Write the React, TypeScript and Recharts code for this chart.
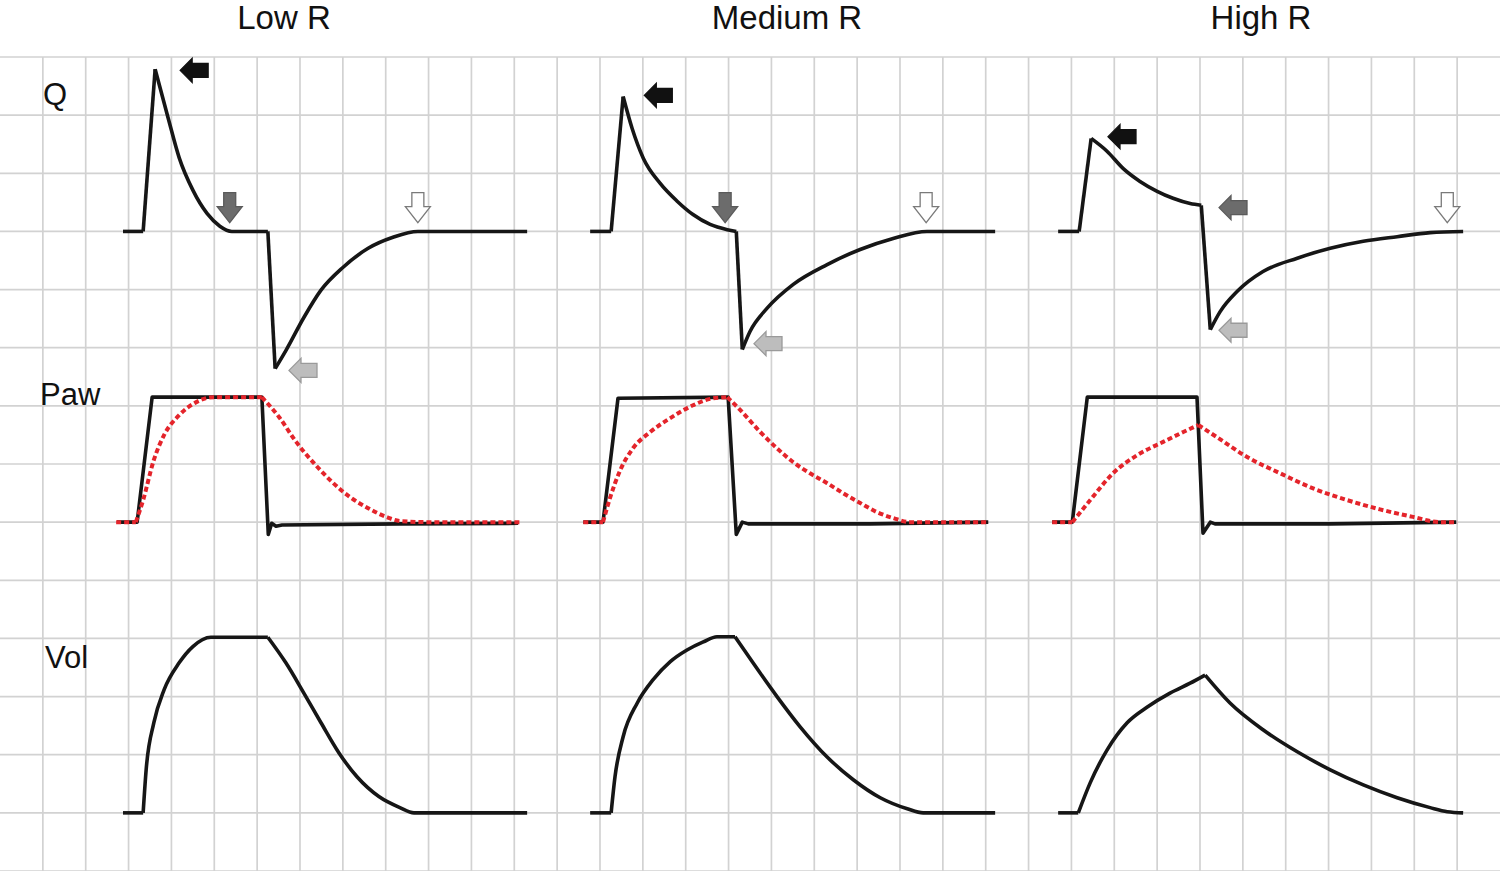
import React from 'react';
import { LineChart, Line, XAxis, YAxis, CartesianGrid, ReferenceDot } from 'recharts';

// grid is 35 columns x 14 rows below the title strip
const xTicks = [1, 2, 3, 4, 5, 6, 7, 8, 9, 10, 11, 12, 13, 14, 15, 16, 17, 18, 19, 20, 21, 22, 23, 24, 25, 26, 27, 28, 29, 30, 31, 32, 33, 34];
const yTicks = [0, 1, 2, 3, 4, 5, 6, 7, 8, 9, 10, 11, 12, 13, 14];

const panelTitles = ['Low R', 'Medium R', 'High R'];
const panelStart = [2.87, 13.77, 24.69];
const rowLabels = ['Q', 'Paw', 'Vol'];
const baseQ = 11;
const basePaw = 6;
const baseVol = 1;

type Pt = [number, number];

// [time from panel start, value above baseline], in grid cells; split at sharp corners
const flowLow: Pt[][] = [
  [[0, 0], [0.47, 0]],
  [[0.47, 0], [0.75, 2.79]],
  [[0.75, 2.79], [1.05, 1.96], [1.31, 1.27], [1.63, 0.71], [1.96, 0.31], [2.26, 0.09], [2.54, 0], [3.38, 0]],
  [[3.38, 0], [3.55, -2.36]],
  [[3.55, -2.36], [3.8, -2.05], [4.22, -1.48], [4.62, -1.01], [5.13, -0.62], [5.72, -0.29], [6.3, -0.1], [6.88, 0], [9.43, 0]],
];
const flowMed: Pt[][] = [
  [[0, 0], [0.49, 0]],
  [[0.49, 0], [0.77, 2.32]],
  [[0.77, 2.32], [0.98, 1.77], [1.24, 1.26], [1.63, 0.83], [2.03, 0.52], [2.4, 0.29], [2.8, 0.12], [3.2, 0.03], [3.41, 0]],
  [[3.41, 0], [3.55, -2.03]],
  [[3.55, -2.03], [3.73, -1.72], [4.13, -1.32], [4.74, -0.91], [5.53, -0.57], [6.3, -0.31], [7.07, -0.12], [7.86, 0], [9.45, 0]],
];
const flowHigh: Pt[][] = [
  [[0, 0], [0.49, 0]],
  [[0.49, 0], [0.77, 1.6]],
  [[0.77, 1.6], [1.14, 1.38], [1.52, 1.08], [1.91, 0.86], [2.31, 0.69], [2.68, 0.57], [3.08, 0.48], [3.34, 0.45]],
  [[3.34, 0.45], [3.55, -1.69]],
  [[3.55, -1.69], [3.78, -1.38], [4.18, -1.03], [4.78, -0.69], [5.58, -0.46], [6.35, -0.29], [7.12, -0.17], [7.91, -0.09], [8.68, -0.02], [9.45, 0]],
];

const pawLow: Pt[][] = [
  [[-0.14, 0], [0.33, 0], [0.68, 2.15], [3.24, 2.15], [3.39, -0.21], [3.47, -0.02], [3.57, -0.07], [3.71, -0.05], [6.46, -0.03], [9.22, -0.02]],
];
const pawMed: Pt[][] = [
  [[-0.16, 0], [0.3, 0], [0.65, 2.13], [3.22, 2.15], [3.41, -0.21], [3.55, 0], [3.69, -0.03], [6.53, -0.03], [9.29, 0]],
];
const pawHigh: Pt[][] = [
  [[-0.14, 0], [0.33, 0], [0.68, 2.15], [3.24, 2.15], [3.38, -0.19], [3.55, 0], [3.66, -0.03], [6.35, -0.03], [9.29, 0]],
];

const palvLow: Pt[][] = [
  [[-0.16, 0], [0.3, 0]],
  [[0.3, 0], [0.47, 0.38], [0.72, 1.07], [0.96, 1.5], [1.31, 1.84], [1.7, 2.06], [2.12, 2.15], [3.24, 2.15]],
  [[3.24, 2.15], [3.64, 1.81], [4.04, 1.38], [4.46, 1.01], [4.88, 0.69], [5.3, 0.43], [5.72, 0.24], [6.14, 0.09], [6.46, 0.02], [7.14, 0], [9.29, 0]],
];
const palvMed: Pt[][] = [
  [[-0.16, 0], [0.3, 0]],
  [[0.3, 0], [0.47, 0.43], [0.7, 0.89], [1.0, 1.27], [1.4, 1.55], [1.87, 1.79], [2.4, 2.01], [2.8, 2.12], [3.2, 2.15]],
  [[3.2, 2.15], [3.5, 1.93], [3.97, 1.55], [4.36, 1.27], [4.74, 1.03], [5.13, 0.84], [5.53, 0.67], [5.9, 0.5], [6.3, 0.33], [6.7, 0.17], [7.07, 0.07], [7.47, 0], [9.29, 0]],
];
const palvHigh: Pt[][] = [
  [[-0.14, 0], [0.33, 0]],
  [[0.33, 0], [0.75, 0.38], [1.28, 0.84], [1.84, 1.15], [2.45, 1.38], [2.92, 1.55], [3.27, 1.67]],
  [[3.27, 1.67], [3.71, 1.46], [4.41, 1.12], [5.18, 0.84], [5.95, 0.58], [6.74, 0.38], [7.51, 0.22], [8.28, 0.09], [8.91, 0], [9.31, 0]],
];

const volLow: Pt[][] = [
  [[0, 0], [0.47, 0]],
  [[0.47, 0], [0.54, 0.74], [0.72, 1.55], [0.96, 2.12], [1.31, 2.58], [1.63, 2.86], [2.05, 3.02], [3.38, 3.02]],
  [[3.38, 3.02], [3.8, 2.58], [4.22, 2.06], [4.62, 1.55], [5.04, 1.03], [5.46, 0.62], [5.97, 0.28], [6.46, 0.09], [6.79, 0], [9.43, 0]],
];
const volMed: Pt[][] = [
  [[0, 0], [0.49, 0]],
  [[0.49, 0], [0.58, 0.62], [0.77, 1.31], [1.1, 1.89], [1.47, 2.29], [1.87, 2.6], [2.26, 2.8], [2.64, 2.94], [2.96, 3.03], [3.38, 3.03]],
  [[3.38, 3.03], [3.8, 2.58], [4.36, 2.0], [4.9, 1.48], [5.53, 0.96], [6.14, 0.57], [6.77, 0.26], [7.4, 0.07], [7.77, 0], [9.45, 0]],
];
const volHigh: Pt[][] = [
  [[0, 0], [0.47, 0]],
  [[0.47, 0], [0.75, 0.52], [1.14, 1.08], [1.61, 1.55], [2.08, 1.82], [2.61, 2.06], [3.08, 2.23], [3.43, 2.37]],
  [[3.43, 2.37], [4.01, 1.89], [4.78, 1.43], [5.58, 1.05], [6.35, 0.74], [7.12, 0.48], [7.91, 0.26], [8.68, 0.09], [9.08, 0.02], [9.45, 0]],
];

// arrow markers on the flow trace: [panel, time, value above Q baseline, direction, kind]
type ArrowDef = [number, number, number, 'left' | 'down', 'black' | 'dark' | 'white' | 'light'];
const arrows: ArrowDef[] = [
  [0, 1.66, 2.77, 'left', 'black'],
  [0, 2.49, 0.41, 'down', 'dark'],
  [0, 6.88, 0.41, 'down', 'white'],
  [0, 4.2, -2.39, 'left', 'light'],
  [1, 1.59, 2.34, 'left', 'black'],
  [1, 3.15, 0.41, 'down', 'dark'],
  [1, 7.84, 0.41, 'down', 'white'],
  [1, 4.15, -1.93, 'left', 'light'],
  [2, 1.49, 1.63, 'left', 'black'],
  [2, 4.08, 0.41, 'left', 'dark'],
  [2, 9.08, 0.41, 'down', 'white'],
  [2, 4.08, -1.7, 'left', 'light'],
];

const arrowColors = {
  black: { fill: '#111111', stroke: '#111111' },
  dark: { fill: '#6c6c6c', stroke: '#5a5a5a' },
  white: { fill: '#ffffff', stroke: '#7a7a7a' },
  light: { fill: '#bdbdbd', stroke: '#9a9a9a' },
};

const LEFT_SHAPE: Pt[] = [[-14, 0], [-2, -12], [-2, -7], [14, -7], [14, 7], [-2, 7], [-2, 12]];
const DOWN_SHAPE: Pt[] = [[-6, -15], [6, -15], [6, -1], [12.5, -1], [0, 15], [-12.5, -1], [-6, -1]];

const toPoints = (pts: Pt[], panel: number, base: number) =>
  pts.map(([dx, v]) => ({ x: panelStart[panel] + dx, y: base + v }));

const BLACK = '#161616';
const RED = '#e4242b';

type Trace = { id: string; segs: Pt[][]; panel: number; base: number; red: boolean; straight: boolean };
const traces: Trace[] = [
  { id: 'q0', segs: flowLow, panel: 0, base: baseQ, red: false, straight: false },
  { id: 'q1', segs: flowMed, panel: 1, base: baseQ, red: false, straight: false },
  { id: 'q2', segs: flowHigh, panel: 2, base: baseQ, red: false, straight: false },
  { id: 'p0', segs: pawLow, panel: 0, base: basePaw, red: false, straight: true },
  { id: 'p1', segs: pawMed, panel: 1, base: basePaw, red: false, straight: true },
  { id: 'p2', segs: pawHigh, panel: 2, base: basePaw, red: false, straight: true },
  { id: 'a0', segs: palvLow, panel: 0, base: basePaw, red: true, straight: false },
  { id: 'a1', segs: palvMed, panel: 1, base: basePaw, red: true, straight: false },
  { id: 'a2', segs: palvHigh, panel: 2, base: basePaw, red: true, straight: false },
  { id: 'v0', segs: volLow, panel: 0, base: baseVol, red: false, straight: false },
  { id: 'v1', segs: volMed, panel: 1, base: baseVol, red: false, straight: false },
  { id: 'v2', segs: volHigh, panel: 2, base: baseVol, red: false, straight: false },
];

const Arrow = ({ cx, cy, dir, kind }: { cx?: number; cy?: number; dir: 'left' | 'down'; kind: keyof typeof arrowColors }) => {
  if (cx == null || cy == null) return null;
  const shape = dir === 'left' ? LEFT_SHAPE : DOWN_SHAPE;
  const c = arrowColors[kind];
  return (
    <polygon
      points={shape.map(([a, b]) => `${cx + a},${cy + b}`).join(' ')}
      fill={c.fill}
      stroke={c.stroke}
      strokeWidth={1.3}
    />
  );
};

const titleX = [284, 787, 1261];
const labelPos: Pt[] = [[43, 105], [40, 405], [45, 668]];

const vGen = (p: any) => {
  const s = p?.xAxis?.scale;
  const o = p.offset;
  return xTicks.map((t) => (typeof s === 'function' ? s(t) : o.left + (o.width * t) / 35));
};
const hGen = (p: any) => {
  const s = p?.yAxis?.scale;
  const o = p.offset;
  return yTicks.map((t) => (typeof s === 'function' ? s(t) : o.top + o.height * (1 - t / 14)));
};

const App: React.FC = () => {
  return (
    <div style={{ position: 'absolute', left: 0, top: 0, width: 1500, height: 871, background: '#ffffff', overflow: 'hidden' }}>
      <LineChart width={1500} height={871} margin={{ top: 57, right: 0, bottom: 0, left: 0 }}>
        <CartesianGrid
          stroke="#d2d2d2"
          strokeWidth={1.7}
          verticalCoordinatesGenerator={vGen}
          horizontalCoordinatesGenerator={hGen}
        />
        <XAxis
          type="number"
          dataKey="x"
          domain={[0, 35]}
          ticks={xTicks}
          height={0}
          axisLine={false}
          tickLine={false}
          tick={false}
          allowDataOverflow
        />
        <YAxis
          type="number"
          domain={[0, 14]}
          ticks={yTicks}
          width={0}
          axisLine={false}
          tickLine={false}
          tick={false}
          allowDataOverflow
        />
        {traces.flatMap((t) =>
          t.segs.map((seg, i) => (
            <Line
              key={`${t.id}-${i}`}
              data={toPoints(seg, t.panel, t.base)}
              dataKey="y"
              type={t.straight ? 'linear' : 'monotone'}
              stroke={t.red ? RED : BLACK}
              strokeWidth={t.red ? 4 : 3.6}
              strokeDasharray={t.red ? '5 3' : undefined}
              strokeLinejoin="round"
              dot={false}
              activeDot={false}
              isAnimationActive={false}
            />
          ))
        )}
        {arrows.map(([panel, dx, v, dir, kind], i) => (
          <ReferenceDot
            key={`arrow-${i}`}
            x={panelStart[panel] + dx}
            y={baseQ + v}
            r={14}
            ifOverflow="visible"
            shape={(p: any) => <Arrow cx={p.cx} cy={p.cy} dir={dir} kind={kind} />}
          />
        ))}
      </LineChart>
      <svg width={1500} height={871} style={{ position: 'absolute', left: 0, top: 0, pointerEvents: 'none' }}>
        {panelTitles.map((t, i) => (
          <text
            key={t}
            x={titleX[i]}
            y={29}
            textAnchor="middle"
            fontFamily="'Liberation Sans', Arial, Helvetica, sans-serif"
            fontSize={33}
            fill="#111"
          >
            {t}
          </text>
        ))}
        {rowLabels.map((l, i) => (
          <text
            key={l}
            x={labelPos[i][0]}
            y={labelPos[i][1]}
            fontFamily="'Liberation Sans', Arial, Helvetica, sans-serif"
            fontSize={31}
            fill="#111"
          >
            {l}
          </text>
        ))}
      </svg>
    </div>
  );
};

export default App;
